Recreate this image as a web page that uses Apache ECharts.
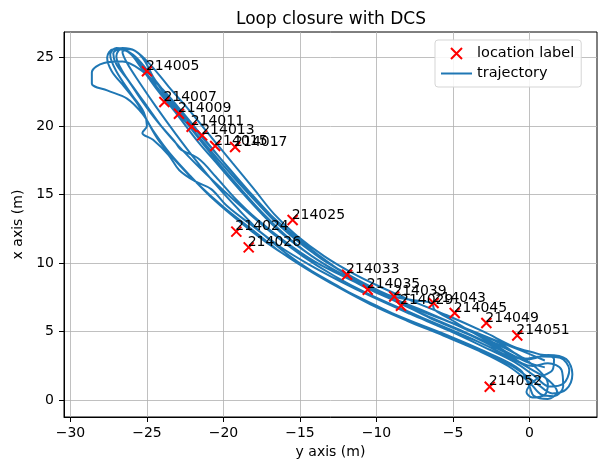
<!DOCTYPE html>
<html>
<head>
<meta charset="utf-8">
<script src="https://cdn.jsdelivr.net/npm/echarts@6/dist/echarts.min.js"></script>
<style>
  html, body { margin: 0; padding: 0; background: #fff; }
  #chart { width: 600px; height: 466px; }
</style>
</head>
<body>
<div id="chart"></div>
<script>
// tick labels
const xTicks = [-30, -25, -20, -15, -10, -5, 0];
const yTicks = [0, 5, 10, 15, 20, 25];

// location labels (y axis value, x axis value, name)
const labelNames = ['214005', '214007', '214009', '214011', '214013', '214015', '214017',
  '214024', '214025', '214026', '214033', '214035', '214039', '214029', '214043',
  '214045', '214049', '214051', '214052'];
const labelX = [-25.0, -23.86, -22.91, -22.08, -21.39, -20.54, -19.24,
  -19.16, -15.48, -18.35, -11.92, -10.57, -8.84, -8.4, -6.27,
  -4.89, -2.82, -0.8, -2.6];
const labelY = [24.0, 21.75, 20.9, 19.95, 19.32, 18.54, 18.47,
  12.3, 13.15, 11.15, 9.16, 8.06, 7.57, 6.89, 7.09,
  6.36, 5.63, 4.72, 0.99];

// trajectory, read lap by lap
const lap1 = [[1.0, 2.9], [-0.5, 3.6], [-2.5, 4.5], [-5.0, 5.6], [-7.5, 6.7], [-10.0, 8.0], [-12.0, 9.2],
  [-13.8, 10.6], [-15.5, 12.1], [-17.0, 13.6], [-18.4, 15.3], [-19.8, 17.1], [-21.2, 19.0], [-22.6, 20.9],
  [-24.0, 22.7], [-25.3, 24.0], [-26.6, 24.7], [-27.8, 24.6], [-28.6, 23.9], [-28.6, 23.1], [-27.6, 22.6],
  [-26.3, 22.0], [-25.3, 20.9], [-24.5, 19.5], [-23.5, 18.0], [-22.2, 16.4], [-20.6, 14.6], [-18.8, 12.9],
  [-16.8, 11.2], [-14.8, 9.8], [-12.8, 8.5], [-10.5, 7.1], [-8.0, 5.9], [-5.5, 4.8], [-3.0, 3.6],
  [-1.0, 2.4], [0.5, 1.2], [1.5, 0.5], [2.4, 0.8], [2.8, 1.9], [2.4, 3.0], [1.2, 3.3], [0.0, 3.0]];
const lap2 = [[-2.0, 4.2], [-4.5, 5.4], [-7.0, 6.5], [-9.2, 7.6], [-11.2, 8.7], [-13.0, 9.9],
  [-14.8, 11.3], [-16.4, 12.8], [-17.8, 14.4], [-19.2, 16.1], [-20.6, 17.9], [-22.0, 19.7], [-23.4, 21.5],
  [-24.6, 23.2], [-25.6, 24.7], [-26.4, 25.5], [-27.2, 25.6], [-27.6, 25.0], [-27.3, 24.0], [-26.5, 22.9],
  [-25.6, 21.6], [-24.9, 20.2], [-24.2, 18.9], [-23.0, 17.3], [-21.6, 15.7], [-20.0, 14.1], [-18.3, 12.6],
  [-16.5, 11.0], [-14.6, 9.6], [-12.6, 8.3], [-10.4, 7.0], [-8.0, 5.8], [-5.6, 4.7], [-3.3, 3.6],
  [-1.4, 2.5], [0.0, 1.3], [0.8, 0.4], [1.6, 0.3], [2.2, 1.0], [2.1, 2.2], [1.2, 2.7], [0.2, 2.5]];
const lap3 = [[-1.8, 3.6], [-4.0, 4.8], [-6.5, 6.0], [-8.5, 7.1], [-10.5, 8.1], [-12.3, 9.2],
  [-14.2, 10.5], [-16.0, 12.0], [-17.5, 13.6], [-18.9, 15.3], [-20.3, 17.1], [-21.7, 18.9], [-23.0, 20.8],
  [-24.3, 22.6], [-25.4, 24.3], [-26.2, 25.4], [-27.0, 25.7], [-27.4, 25.2], [-27.0, 24.0], [-26.0, 22.3],
  [-25.2, 21.0], [-25.0, 20.0], [-25.3, 19.5], [-24.6, 19.0], [-23.6, 17.9], [-22.9, 16.8], [-21.9, 16.0],
  [-20.8, 15.4], [-19.8, 14.2], [-18.2, 12.8], [-16.3, 11.2], [-14.4, 9.9], [-12.4, 8.7], [-10.2, 7.5],
  [-7.8, 6.3], [-5.3, 5.1], [-3.0, 3.9], [-1.0, 2.8], [0.3, 1.8], [1.3, 1.0], [2.2, 1.2], [2.6, 2.2],
  [2.0, 3.1], [0.8, 3.2], [-0.4, 3.0]];
const lap4 = [[-2.2, 4.0], [-3.8, 5.0], [-5.0, 5.8], [-6.2, 6.6], [-6.4, 7.1], [-7.6, 7.3], [-9.0, 7.6],
  [-10.4, 8.3], [-11.9, 9.2], [-13.6, 10.3], [-15.4, 11.9], [-16.9, 13.5], [-18.3, 15.2], [-19.7, 17.0],
  [-21.1, 18.8], [-22.5, 20.6], [-23.8, 22.4], [-25.0, 24.1], [-25.9, 25.2], [-26.8, 25.6], [-27.2, 25.3],
  [-27.0, 24.5], [-26.2, 23.3], [-25.3, 21.8], [-24.3, 20.3], [-23.2, 18.9], [-22.8, 18.3], [-21.6, 17.6],
  [-20.5, 16.3], [-19.3, 14.8], [-17.8, 13.2], [-16.0, 11.6], [-14.0, 10.1], [-11.9, 8.9], [-9.7, 7.8],
  [-7.3, 6.7], [-4.8, 5.5], [-2.5, 4.3], [-0.6, 3.2], [0.6, 2.2], [1.2, 1.2], [1.0, 0.4], [0.2, 0.2],
  [-0.2, 0.6], [0.4, 1.5]];
const lap5 = [[1.5, 2.2], [1.6, 3.0], [0.5, 3.4], [-1.0, 3.9], [-3.0, 5.0], [-5.4, 6.2], [-7.8, 7.3],
  [-9.8, 8.3], [-11.6, 9.3], [-13.4, 10.5], [-15.2, 12.0], [-16.7, 13.6], [-18.0, 15.4], [-19.4, 17.3],
  [-20.8, 19.2], [-22.2, 21.1], [-23.6, 22.9], [-24.8, 24.5], [-25.8, 25.5], [-26.6, 25.7], [-27.0, 25.1],
  [-26.6, 24.0], [-25.8, 22.7], [-24.9, 21.3], [-24.0, 19.9], [-22.9, 18.5], [-21.5, 16.9], [-20.0, 15.3],
  [-18.4, 13.7], [-16.6, 12.0], [-14.8, 10.5], [-12.8, 9.1], [-10.6, 7.8], [-8.2, 6.6], [-5.7, 5.4],
  [-3.4, 4.3], [-1.4, 3.2], [0.2, 2.2], [1.3, 1.4], [1.8, 0.6], [1.2, 0.1], [0.3, 0.3], [0.0, 1.0]];
const lap6 = [[-0.6, 2.2], [-2.6, 3.4], [-5.0, 4.5], [-7.5, 5.6], [-10.0, 6.9], [-12.2, 8.1],
  [-14.2, 9.4], [-16.0, 10.8], [-17.6, 12.3], [-19.0, 13.9], [-20.4, 15.6], [-21.8, 17.5], [-23.1, 19.4],
  [-24.4, 21.4], [-25.5, 23.2], [-26.3, 24.6], [-26.6, 25.4], [-26.1, 25.6], [-25.3, 25.0], [-24.6, 23.6],
  [-23.7, 22.1], [-22.6, 20.5], [-21.4, 18.8], [-20.1, 17.0], [-18.7, 15.2], [-17.3, 13.5], [-15.7, 11.8],
  [-13.8, 10.2], [-11.6, 8.8], [-9.3, 7.5], [-6.8, 6.2], [-4.3, 5.0], [-2.0, 3.8], [-0.2, 2.8], [1.0, 2.4]];

const trajectory = lap1.concat(lap2, lap3, lap4, lap5, lap6);
const labelPoints = labelNames.map((n, i) => ({ name: n, value: [labelX[i], labelY[i]] }));

const font = 'DejaVu Sans';
const minus = v => String(v).replace('-', '\u2212');

let chart = echarts.init(document.getElementById('chart'));
chart.setOption({
  animation: false,
  backgroundColor: '#fff',
  textStyle: { fontFamily: font },
  title: {
    text: 'Loop closure with DCS',
    left: 231,
    top: 6,
    textStyle: { fontFamily: font, fontSize: 17, fontWeight: 'normal', color: '#000' }
  },
  legend: {
    left: 435,
    top: 40,
    orient: 'vertical',
    padding: [6, 7, 6, 5],
    itemGap: 5,
    itemWidth: 31,
    itemHeight: 11,
    backgroundColor: 'rgba(255,255,255,0.85)',
    borderColor: '#d5d5d5',
    borderWidth: 1,
    borderRadius: 3,
    textStyle: { fontFamily: font, fontSize: 14.5, color: '#000' },
    data: [
      { name: 'location label' },
      { name: 'trajectory', itemStyle: { opacity: 0 } }
    ]
  },
  grid: {
    left: 64, right: 3, top: 32, bottom: 49,
    show: true, borderColor: '#000', borderWidth: 1
  },
  xAxis: {
    type: 'value',
    min: -30.42,
    max: 4.41,
    name: 'y axis (m)',
    nameLocation: 'middle',
    nameGap: 28,
    nameTextStyle: { fontFamily: font, fontSize: 14, color: '#000' },
    axisLine: { onZero: false, lineStyle: { color: '#000' } },
    axisTick: { length: 5, customValues: xTicks, lineStyle: { color: '#000' } },
    axisLabel: { customValues: xTicks, margin: 9, fontFamily: font, fontSize: 14, color: '#000', formatter: minus },
    splitLine: { show: true, lineStyle: { color: '#b0b0b0', width: 0.8 } }
  },
  yAxis: {
    type: 'value',
    min: -1.22,
    max: 26.86,
    name: 'x axis (m)',
    nameLocation: 'middle',
    nameGap: 37,
    nameTextStyle: { fontFamily: font, fontSize: 14, color: '#000' },
    axisLine: { show: true, onZero: false, lineStyle: { color: '#000' } },
    axisTick: { show: true, length: 5, customValues: yTicks, lineStyle: { color: '#000' } },
    axisLabel: { customValues: yTicks, margin: 10, fontFamily: font, fontSize: 14, color: '#000', formatter: minus },
    splitLine: { show: true, lineStyle: { color: '#b0b0b0', width: 0.8 } }
  },
  series: [
    {
      name: 'trajectory',
      type: 'line',
      data: trajectory,
      smooth: 0.35,
      showSymbol: false,
      symbol: 'none',
      color: '#1f77b4',
      lineStyle: { color: '#1f77b4', width: 2 },
      z: 2
    },
    {
      name: 'location label',
      type: 'scatter',
      data: labelPoints,
      symbol: 'path://M0,0L10,10M0,10L10,0',
      symbolSize: 10,
      color: 'red',
      itemStyle: { color: 'red', borderColor: 'red', borderWidth: 2, opacity: 1 },
      label: {
        show: true,
        formatter: '{b}',
        position: [5, 8],
        align: 'left',
        verticalAlign: 'bottom',
        fontFamily: font,
        fontSize: 14,
        color: '#000'
      },
      z: 3
    }
  ]
});
</script>
</body>
</html>
